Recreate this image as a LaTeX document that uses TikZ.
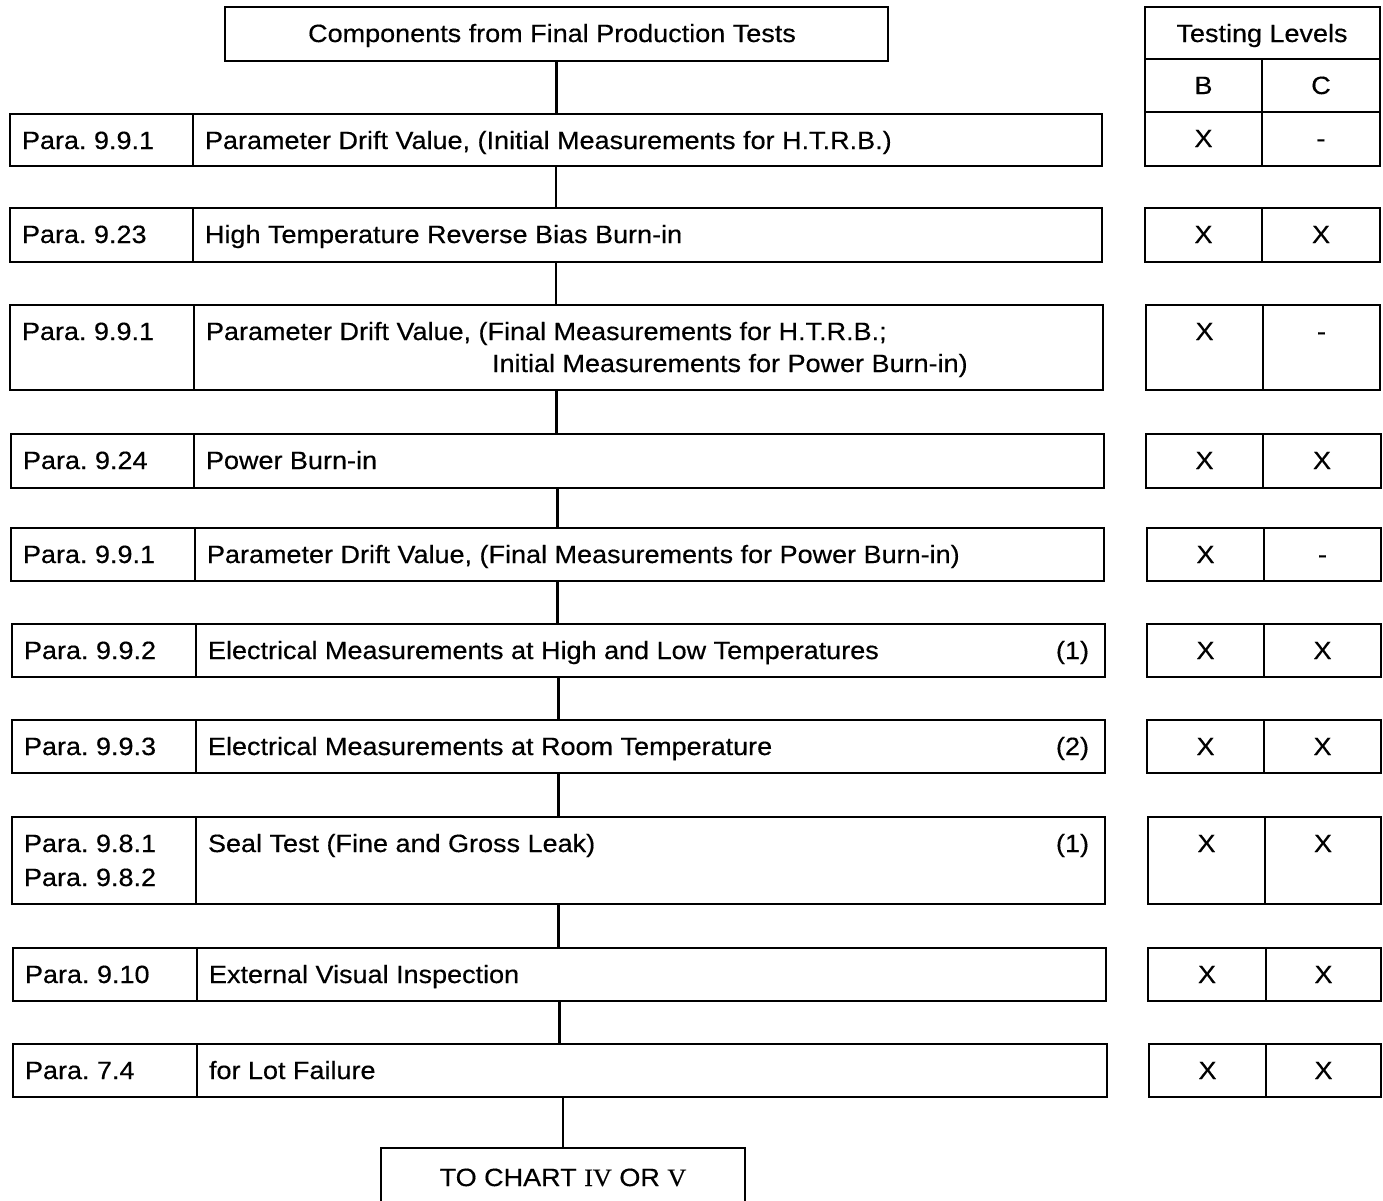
\documentclass[tikz,border=0pt]{standalone}
\usepackage{fontspec}
\setmainfont{Liberation Sans}[FakeStretch=1.08, FakeBold=0.4]
\newfontfamily\romanf{Liberation Serif}[FakeStretch=1.05, FakeBold=0.4]
\frenchspacing
\tikzset{
  cellbox/.style={draw, line width=2.2pt, inner sep=0pt, outer sep=0pt, anchor=north west},
  txt/.style={inner sep=0pt, outer sep=0pt, font=\fontsize{25}{30}\selectfont},
  conn/.style={line width=2.2pt}
}
% name, x1, y1, x2, y2
\newcommand{\cellbx}[5]{%
  \node[cellbox, minimum width={(#4-#2)*1pt}, minimum height={(#5-#3)*1pt}] (#1) at (#2,#3) {};}
% name, x1, xd, x2, y1, y2, para, text, note
\newcommand{\flowrow}[9]{%
  \cellbx{#1}{#2}{#5}{#4}{#6}%
  \cellbx{#1-p}{#2}{#5}{#3}{#6}%
  \node[txt, anchor=base west] (#1-pt) at ({#2+12},{#5+35}) {#7};%
  \node[txt, anchor=base west] (#1-tt) at ({#3+12},{#5+35}) {#8};%
  \node[txt, anchor=base east] (#1-n) at ({#4-16},{#5+35}) {#9};}
% name, x1, xm, x2, y1, y2, B, C
\newcommand{\lvlrow}[8]{%
  \cellbx{#1-b}{#2}{#5}{#3}{#6}%
  \cellbx{#1-c}{#3}{#5}{#4}{#6}%
  \node[txt, anchor=base] (#1-bt) at ({(#2+#3)/2},{#5+35}) {#7};%
  \node[txt, anchor=base] (#1-ct) at ({(#3+#4)/2},{#5+35}) {#8};}
\begin{document}
\begin{tikzpicture}[x=1pt, y=-1pt]
\clip (0,0) rectangle (1383,1200);
\fill[white] (0,0) rectangle (1383,1200);
% top box
\cellbx{top}{225}{7}{888}{61}
\node[txt, anchor=base] (top-t) at (552,42) {Components from Final Production Tests};
% header table
\cellbx{hdr}{1145}{7}{1380}{59}
\node[txt, anchor=base] (hdr-t) at (1262,42) {Testing Levels};
\lvlrow{hbc}{1145}{1262}{1380}{59}{112}{B}{C}
% rows
\flowrow{r1}{10}{193}{1102}{114}{166}{Para. 9.9.1}{Parameter Drift Value, (Initial Measurements for H.T.R.B.)}{}
\lvlrow{l1}{1145}{1262}{1380}{112}{166}{X}{-}
\flowrow{r2}{10}{193}{1102}{208}{262}{Para. 9.23}{High Temperature Reverse Bias Burn-in}{}
\lvlrow{l2}{1145}{1262}{1380}{208}{262}{X}{X}
\flowrow{r3}{10}{194}{1103}{305}{390}{Para. 9.9.1}{Parameter Drift Value, (Final Measurements for H.T.R.B.;}{}
\node[txt, anchor=base west] (r3-t2) at (492,372) {Initial Measurements for Power Burn-in)};
\lvlrow{l3}{1146}{1263}{1380}{305}{390}{X}{-}
\flowrow{r4}{11}{194}{1104}{434}{488}{Para. 9.24}{Power Burn-in}{}
\lvlrow{l4}{1146}{1263}{1381}{434}{488}{X}{X}
\flowrow{r5}{11}{195}{1104}{528}{581}{Para. 9.9.1}{Parameter Drift Value, (Final Measurements for Power Burn-in)}{}
\lvlrow{l5}{1147}{1264}{1381}{528}{581}{X}{-}
\flowrow{r6}{12}{196}{1105}{624}{677}{Para. 9.9.2}{Electrical Measurements at High and Low Temperatures}{(1)}
\lvlrow{l6}{1147}{1264}{1381}{624}{677}{X}{X}
\flowrow{r7}{12}{196}{1105}{720}{773}{Para. 9.9.3}{Electrical Measurements at Room Temperature}{(2)}
\lvlrow{l7}{1147}{1264}{1381}{720}{773}{X}{X}
\flowrow{r8}{12}{196}{1105}{817}{904}{Para. 9.8.1}{Seal Test (Fine and Gross Leak)}{(1)}
\node[txt, anchor=base west] (r8-p2) at (24,886) {Para. 9.8.2};
\lvlrow{l8}{1148}{1265}{1381}{817}{904}{X}{X}
\flowrow{r9}{13}{197}{1106}{948}{1001}{Para. 9.10}{External Visual Inspection}{}
\lvlrow{l9}{1148}{1266}{1381}{948}{1001}{X}{X}
\flowrow{r10}{13}{197}{1107}{1044}{1097}{Para. 7.4}{for Lot Failure}{}
\lvlrow{l10}{1149}{1266}{1381}{1044}{1097}{X}{X}
% bottom box
\cellbx{bot}{381}{1148}{745}{1215}
\node[txt, anchor=base] (bot-t) at (563,1186) {TO CHART {\romanf IV} OR {\romanf V}};
% connectors
\draw[conn] (top.south) -- (top.south |- r1.north);
\draw[conn] (r1.south) -- (r1.south |- r2.north);
\draw[conn] (r2.south) -- (r2.south |- r3.north);
\draw[conn] (r3.south) -- (r3.south |- r4.north);
\draw[conn] (r4.south) -- (r4.south |- r5.north);
\draw[conn] (r5.south) -- (r5.south |- r6.north);
\draw[conn] (r6.south) -- (r6.south |- r7.north);
\draw[conn] (r7.south) -- (r7.south |- r8.north);
\draw[conn] (r8.south) -- (r8.south |- r9.north);
\draw[conn] (r9.south) -- (r9.south |- r10.north);
\draw[conn] (bot.north |- r10.south) -- (bot.north);
\end{tikzpicture}
\end{document}
